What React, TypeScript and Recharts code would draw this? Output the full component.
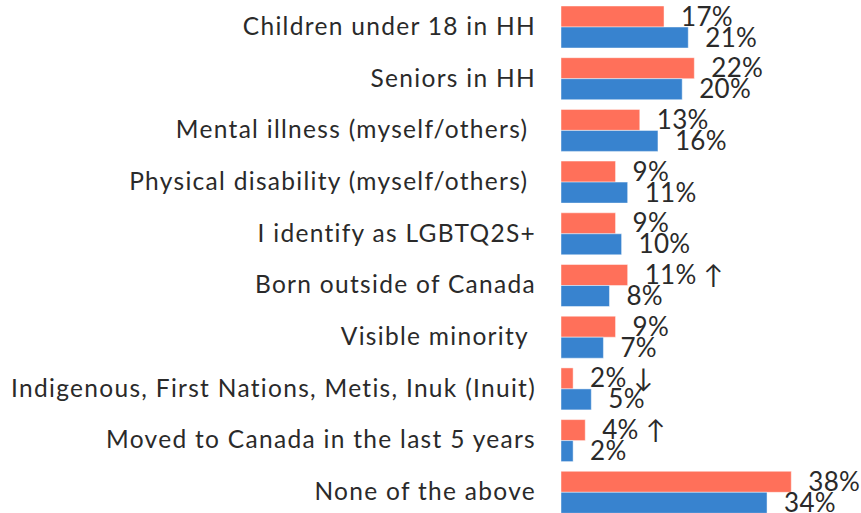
import React from "react";
import { BarChart, Bar, XAxis, YAxis, LabelList } from "recharts";

const categories = [
  "Children under 18 in HH",
  "Seniors in HH",
  "Mental illness (myself/others) ",
  "Physical disability (myself/others) ",
  "I identify as LGBTQ2S+",
  "Born outside of Canada",
  "Visible minority ",
  "Indigenous, First Nations, Metis, Inuk (Inuit)",
  "Moved to Canada in the last 5 years",
  "None of the above",
];
const seriesA = [17, 22, 13, 9, 9, 11, 9, 2, 4, 38];
const seriesB = [21, 20, 16, 11, 10, 8, 7, 5, 2, 34];
const markA = ["", "", "", "", "", " \u2191", "", " \u2193", " \u2191", ""];
const markB = ["", "", "", "", "", "", "", "", "", ""];

const data = categories.map((c, i) => ({
  name: c,
  a: seriesA[i],
  b: seriesB[i],
  la: `${seriesA[i]}%${markA[i]}`,
  lb: `${seriesB[i]}%${markB[i]}`,
}));

const FONT = "Lato, 'Open Sans', sans-serif";

const Tick = (props: any) => {
  const { y, payload } = props;
  return (
    <text
      x={536}
      y={y}
      dy={8}
      textAnchor="end"
      fill="#2a2a2a"
      fontSize={24.5}
      fontFamily={FONT}
      letterSpacing={1.3}
      style={{ whiteSpace: "pre" }}
    >
      {payload.value}
    </text>
  );
};

const makeLabel = (key: "la" | "lb") => (props: any) => {
  const { x, y, width, height, index } = props;
  const txt = data[index][key];
  return (
    <text
      x={x + width + 17}
      y={y + height / 2}
      dy={9}
      textAnchor="start"
      fill="#2a2a2a"
      fontSize={26}
      fontFamily={FONT}
      letterSpacing={0.3}
      style={{ whiteSpace: "pre" }}
    >
      {txt}
    </text>
  );
};

export default function App() {
  return (
    <div style={{ position: "absolute", left: 0, top: 0, background: "#fff" }}>
      <BarChart
        width={861}
        height={518}
        data={data}
        layout="vertical"
        margin={{ top: 1, right: 57.6, bottom: 0, left: 0 }}
        barGap={0}
        barSize={21}
      >
        <XAxis type="number" hide domain={[0, 40]} />
        <YAxis
          type="category"
          dataKey="name"
          width={561}
          axisLine={false}
          tickLine={false}
          tick={<Tick />}
          interval={0}
        />
        <Bar dataKey="a" fill="#FF705A" stroke="rgba(255,255,255,0.45)" isAnimationActive={false}>
          <LabelList dataKey="la" content={makeLabel("la")} />
        </Bar>
        <Bar dataKey="b" fill="#3883CF" stroke="rgba(255,255,255,0.45)" isAnimationActive={false}>
          <LabelList dataKey="lb" content={makeLabel("lb")} />
        </Bar>
      </BarChart>
    </div>
  );
}
